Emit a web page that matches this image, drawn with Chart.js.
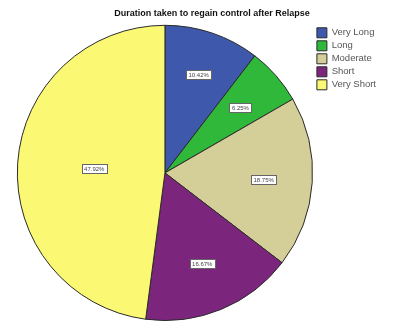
<!DOCTYPE html>
<html>
<head>
<meta charset="utf-8">
<script src="https://cdn.jsdelivr.net/npm/chart.js@4.4.0/dist/chart.umd.min.js"></script>
<style>
  html, body { margin: 0; padding: 0; background: #fff; }
  #wrap { width: 408px; height: 323px; position: relative; }
</style>
</head>
<body>
<div id="wrap"><canvas id="relapse"></canvas></div>
<script>
// duration categories and their share of respondents (%)
const categories = ['Very Long', 'Long', 'Moderate', 'Short', 'Very Short'];
const percents = [10.42, 6.25, 18.75, 16.67, 47.92];
const sliceColors = ['#3e58ac', '#2fb83a', '#d4cf98', '#7b267c', '#fbf873'];

// legend gets some empty room on its right, like the SPSS output
const wideLegend = {
  id: 'wideLegend',
  beforeUpdate(chart) {
    const lg = chart.legend;
    if (lg && !lg._widened) {
      const fit = lg.fit.bind(lg);
      lg.fit = function () { fit(); this.width += 22; };
      lg._widened = true;
    }
  }
};

// boxed percentage labels inside each slice
const sliceLabels = {
  id: 'sliceLabels',
  afterDatasetsDraw(chart) {
    const ctx = chart.ctx;
    const meta = chart.getDatasetMeta(0);
    const fractions = [0.71, 0.68, 0.67, 0.66, 0.48];
    ctx.save();
    ctx.font = '6px Arial, "Liberation Sans", sans-serif';
    ctx.textAlign = 'center';
    ctx.textBaseline = 'middle';
    meta.data.forEach((arc, i) => {
      const p = arc.getProps(['x', 'y', 'startAngle', 'endAngle', 'outerRadius'], true);
      const mid = (p.startAngle + p.endAngle) / 2;
      const r = p.outerRadius * fractions[i];
      const x = p.x + Math.cos(mid) * r;
      const y = p.y + Math.sin(mid) * r;
      const text = percents[i].toFixed(2) + '%';
      const w = Math.round(ctx.measureText(text).width + 5);
      const bx = Math.round(x - w / 2), by = Math.round(y - 4);
      ctx.fillStyle = '#ffffff';
      ctx.fillRect(bx, by, w, 9);
      ctx.strokeStyle = '#666666';
      ctx.lineWidth = 1;
      ctx.strokeRect(bx + 0.5, by + 0.5, w, 9);
      ctx.fillStyle = '#444444';
      ctx.fillText(text, x, by + 5);
    });
    ctx.restore();
  }
};

new Chart(document.getElementById('relapse'), {
  type: 'pie',
  data: {
    labels: categories,
    datasets: [{
      data: percents,
      backgroundColor: sliceColors,
      borderColor: '#2a2a2a',
      borderWidth: 1
    }]
  },
  options: {
    responsive: true,
    maintainAspectRatio: false,
    animation: false,
    layout: { padding: { left: 16, right: 0, top: 0, bottom: 2 } },
    plugins: {
      title: {
        display: true,
        text: 'Duration taken to regain control after Relapse',
        color: '#111111',
        font: { family: 'Arial, "Liberation Sans", sans-serif', size: 9, weight: 'bold' },
        padding: { top: 8, bottom: 6 }
      },
      legend: {
        position: 'right',
        align: 'start',
        fullSize: false,
        labels: {
          boxWidth: 10,
          boxHeight: 10,
          padding: 3,
          color: '#555555',
          font: { family: 'Arial, "Liberation Sans", sans-serif', size: 9.5 }
        }
      },
      tooltip: { enabled: false }
    }
  },
  plugins: [wideLegend, sliceLabels]
});
</script>
</body>
</html>
